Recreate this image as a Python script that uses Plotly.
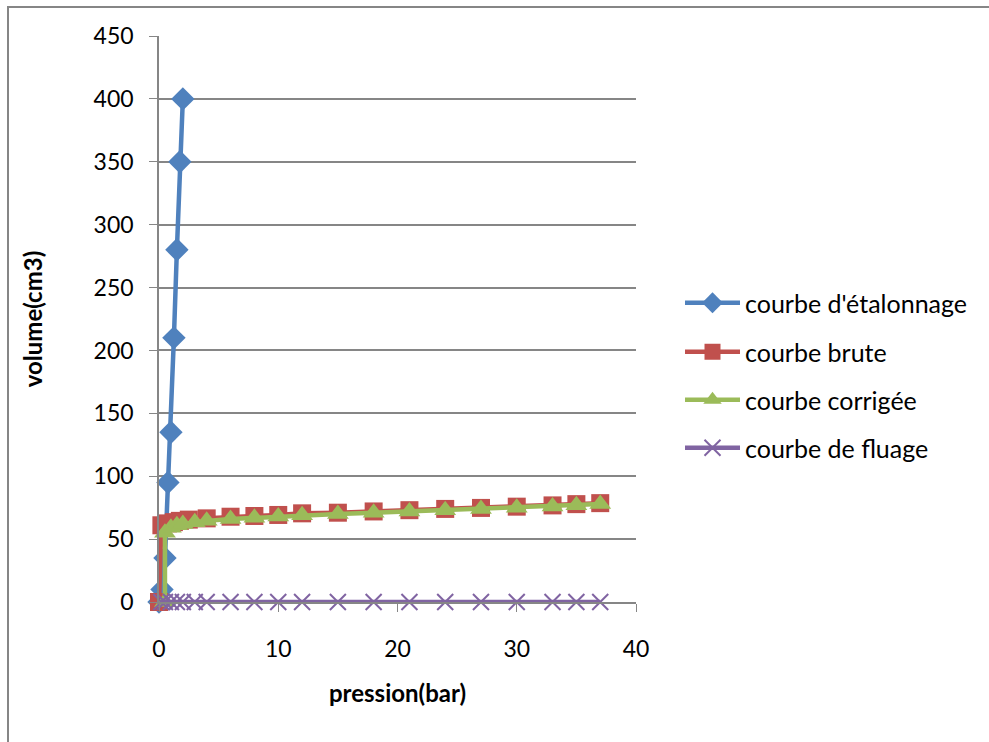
import plotly.graph_objects as go

# ---- data ----
p_etalonnage = [0, 0.25, 0.5, 0.75, 1.0, 1.25, 1.5, 1.75, 2.0]
v_etalonnage = [0, 10, 35, 95, 135, 210, 280, 350, 400]

p_brute = [0, 0.2, 0.75, 1.25, 1.75, 2.5, 4, 6, 8, 10, 12, 15, 18, 21, 24, 27, 30, 33, 35, 37]
v_brute = [0, 61, 62.5, 63.5, 64.5, 65.5, 66.5, 67.8, 68.4, 69.2, 70.5, 71, 72, 73, 74, 74.8, 75.8, 76.8, 77.8, 78.6]

p_corrigee = [0.5, 0.5, 1, 1.5, 2, 3, 4, 6, 8, 10, 12, 15, 18, 21, 24, 27, 30, 33, 35, 37]
v_corrigee = [0, 55, 59, 61, 62, 63.5, 64.5, 66, 67, 68, 69, 70, 71, 72, 73, 74, 75, 76, 77, 78]

p_fluage = [0.2, 0.5, 1, 1.5, 2, 3, 4, 6, 8, 10, 12, 15, 18, 21, 24, 27, 30, 33, 35, 37]
v_fluage = [0] * len(p_fluage)

names = ["courbe d'étalonnage", "courbe brute", "courbe corrigée", "courbe de fluage"]
colors = ["#4F81BD", "#C0504D", "#9BBB59", "#8064A2"]
symbols = ["diamond", "square", "triangle-up", "x-thin"]
sizes = [18, 18, 19, 16]

x_ticks = [0, 10, 20, 30, 40]
y_ticks = [0, 50, 100, 150, 200, 250, 300, 350, 400, 450]

FONT = "Lato, Open Sans, sans-serif"
W, H = 989, 742
L, R, T, B = 159, 636, 36, 602

fig = go.Figure()
series = [(p_etalonnage, v_etalonnage), (p_brute, v_brute), (p_corrigee, v_corrigee), (p_fluage, v_fluage)]
legend_ids = ["legend", "legend2", "legend3", "legend4"]
for i, (xs, ys) in enumerate(series):
    marker = dict(symbol=symbols[i], size=sizes[i], color=colors[i])
    if symbols[i] == "x-thin":
        marker["line"] = dict(color=colors[i], width=2)
    fig.add_trace(go.Scatter(
        x=xs, y=ys, mode="lines+markers", name=names[i],
        line=dict(color=colors[i], width=4.5),
        marker=marker, cliponaxis=False, legend=legend_ids[i],
    ))

def px_x(px):
    return (px - L) / (R - L)

def px_y(py):
    return (B - py) / (B - T)

legend_y = [303, 352, 400, 448]
layout_legends = {}
for i, lid in enumerate(legend_ids):
    layout_legends[lid] = dict(
        x=px_x(680), y=px_y(legend_y[i]), xanchor="left", yanchor="middle",
        font=dict(family=FONT, size=25, color="#000000"),
        itemwidth=55, bgcolor="rgba(0,0,0,0)", borderwidth=0,
    )

fig.update_layout(
    width=W, height=H,
    margin=dict(l=L, r=W - R, t=T, b=H - B, pad=0),
    paper_bgcolor="white", plot_bgcolor="white",
    showlegend=True,
    font=dict(family=FONT, size=23, color="#000000"),
    xaxis=dict(
        range=[0, 40], tickvals=x_ticks, ticks="outside", ticklen=8, tickcolor="#868686",
        showgrid=False, showline=True, linecolor="#868686", linewidth=1.5,
        zeroline=False, ticklabelstandoff=18,
        tickfont=dict(family=FONT, size=23, color="#000000"),
        title=dict(text="<b>pression(bar)</b>", font=dict(family=FONT, size=24), standoff=24),
    ),
    yaxis=dict(
        range=[0, 450], tickvals=y_ticks, ticks="outside", ticklen=8, tickcolor="#868686",
        showgrid=True, gridcolor="#868686", gridwidth=1.5,
        showline=True, linecolor="#868686", linewidth=1.5,
        zeroline=False, ticklabelstandoff=11,
        tickfont=dict(family=FONT, size=23, color="#000000"),
        title=dict(text="<b>volume(cm3)</b>", font=dict(family=FONT, size=24), standoff=44),
    ),
    shapes=[dict(
        type="rect", xref="paper", yref="paper",
        x0=px_x(8), x1=px_x(1000), y0=px_y(760), y1=px_y(7),
        line=dict(color="#868686", width=2), fillcolor="rgba(0,0,0,0)", layer="below",
    )],
    **layout_legends,
)

fig.write_html("out.html")
